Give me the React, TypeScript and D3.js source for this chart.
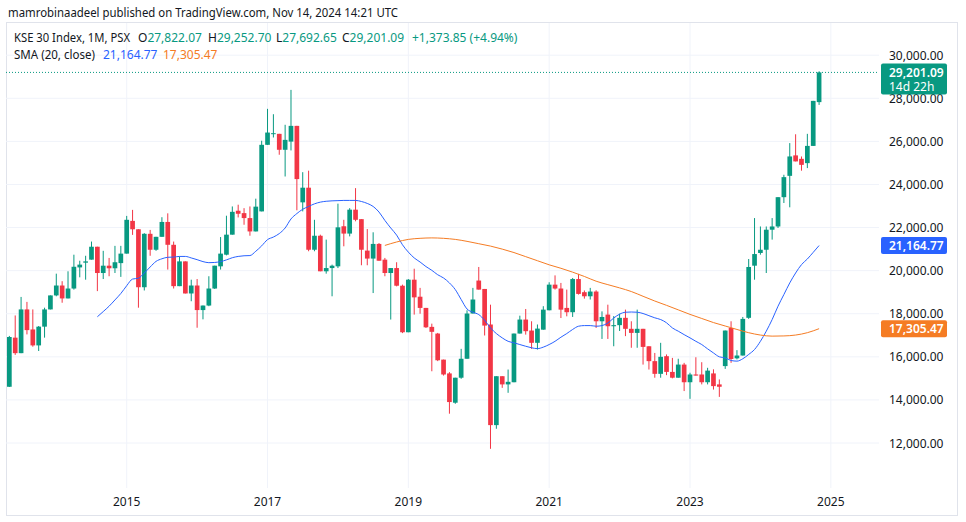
import React from 'react';
import * as d3 from 'd3';

// ---------- DATA (monthly KSE 30, first visible candle = 2013-05) ----------
const START_YEAR = 2013;
const START_MONTH = 5;

const opens = [
  14610, 16890, 16170, 18200, 17270, 16530, 17400, 18200, 18850, 19310, 18710, 19170, 20150, 20370, 20510, 21110, 19890, 20230, 20110, 20350,
  20790, 22310, 21920, 19230, 21710, 20970, 21570, 22260, 21200, 19280, 20430, 18940, 19310, 18170, 18380, 19170, 20200, 20740, 21670, 22780,
  22670, 22440, 21820, 22750, 25840, 26350, 26350, 25610, 25990, 26720, 23170, 23850, 20970, 21620, 19970, 20120, 20200, 22060, 21720, 22830,
  22390, 20930, 20560, 21240, 20510, 19890, 20120, 19300, 17140, 19580, 18790, 18270, 17390, 17080, 15870, 15230, 13870, 15030, 15910, 18010,
  19540, 19150, 17500, 12830, 15100, 14720, 14820, 17080, 17730, 17220, 16650, 17260, 18160, 19350, 19170, 18270, 18070, 19610, 19000, 18810,
  19030, 17650, 17960, 17420, 17470, 17810, 17300, 17110, 17300, 16490, 15800, 15210, 16030, 15300, 15030, 15640, 14820, 15180, 15180, 14820,
  15230, 14720, 15570, 17340, 15930, 16060, 17810, 20230, 20820, 20970, 21900, 22050, 23410, 24400, 25350, 25190, 24990, 25790, 27822.07,
];
const highs = [
  16970, 17920, 18780, 18550, 18200, 17430, 18280, 18850, 19860, 19510, 19970, 20740, 20460, 20690, 21350, 21110, 20920, 20590, 21150, 21150,
  22540, 22820, 21920, 21740, 21890, 21570, 22480, 22660, 21350, 20660, 20430, 19580, 19610, 18380, 19740, 20230, 21560, 22550, 22980, 23060,
  22900, 22980, 23340, 26030, 27510, 27260, 26350, 26770, 28390, 26720, 24570, 24640, 22360, 21670, 21440, 20280, 23110, 22360, 22900, 23830,
  22390, 21930, 21780, 21280, 20590, 20120, 20390, 19350, 19610, 20090, 19200, 18270, 17540, 17110, 15870, 15290, 15030, 16370, 18160, 19200,
  20170, 19150, 18420, 15100, 15100, 15410, 17080, 17910, 18220, 17650, 17500, 18350, 19460, 19780, 19430, 19120, 19660, 19850, 19080, 19200,
  19090, 18110, 18420, 17890, 18000, 18190, 17650, 18190, 17300, 16490, 16180, 16650, 16110, 15950, 15910, 15720, 15260, 15980, 15750, 15490,
  15420, 14950, 17220, 17650, 16310, 17850, 20540, 22440, 22050, 22050, 22440, 23410, 24450, 25920, 26330, 25300, 26350, 27880, 29252.70,
];
const lows = [
  14600, 16090, 16170, 17040, 16470, 16270, 16890, 18200, 18810, 18510, 18710, 19120, 19690, 19580, 20510, 19050, 19610, 19740, 19890, 19710,
  20790, 21660, 18280, 19080, 20690, 20920, 21570, 20050, 19170, 19280, 18940, 18580, 17350, 17740, 18350, 19150, 20050, 20710, 21670, 22470,
  22130, 21620, 21820, 22750, 25840, 26180, 25380, 24370, 25580, 22800, 22750, 20900, 20900, 19970, 19860, 18810, 20120, 21130, 21590, 22290,
  20250, 20250, 18960, 20460, 19740, 17730, 19270, 17100, 17140, 17960, 18000, 17340, 15330, 15800, 15130, 13360, 13820, 14980, 15910, 18010,
  19120, 16990, 11730, 12660, 14560, 14330, 14820, 17080, 17030, 16370, 16340, 17260, 18160, 19120, 17800, 17880, 17850, 18890, 18700, 18660,
  17340, 16830, 16830, 16490, 17200, 16960, 16420, 16420, 15640, 15410, 15030, 15030, 15150, 15000, 15030, 14410, 14050, 15130, 14720, 14720,
  14480, 14140, 15440, 15720, 15880, 16060, 17760, 19580, 20740, 19890, 21440, 21980, 23140, 22940, 25070, 24640, 24760, 25790, 27692.65,
];
const closes = [
  16920, 16170, 18200, 17240, 16530, 17400, 18200, 18850, 19310, 18710, 19170, 20180, 20280, 20430, 21110, 19890, 20230, 20110, 20390, 20790,
  22360, 21920, 19230, 21710, 20970, 21570, 22260, 21200, 19280, 20430, 18940, 19310, 18170, 18380, 19170, 20230, 20790, 21670, 22730, 22640,
  22440, 21820, 22970, 25840, 26410, 26380, 25610, 26070, 26720, 24250, 23850, 20970, 21620, 19970, 20120, 20230, 22010, 21720, 22830, 22360,
  20970, 20560, 21240, 20460, 19890, 20120, 19300, 17140, 19580, 18760, 18270, 17370, 17160, 15840, 15180, 13900, 15030, 15910, 18010, 18660,
  19120, 17450, 12830, 15100, 14720, 14840, 17080, 17730, 17190, 16650, 17310, 18190, 19350, 19170, 18190, 18070, 19610, 18920, 18810, 19030,
  17650, 17850, 17420, 17470, 17810, 17300, 17110, 17300, 16460, 15800, 15210, 16000, 15300, 15030, 15640, 14820, 15180, 15130, 14820, 15360,
  14640, 14610, 17220, 15900, 16060, 17760, 20170, 20770, 20970, 21900, 22050, 23410, 24340, 25300, 25070, 24910, 25790, 27880, 29201.09,
];

// SMA (20, close) line, monthly from 2014-08
const smaFastStart = '2014-08';
const smaFast = [
  17860, 18100, 18350, 18640, 18940,
  19300, 19610, 19650, 19890, 20170, 20430, 20550, 20620, 20630, 20660, 20660, 20590, 20510, 20420, 20370, 20380, 20420, 20500, 20600, 20660,
  20690, 20700, 20900, 21150, 21440, 21560, 21720, 21980, 22400, 22650, 22850, 22980, 23100, 23180, 23220, 23240, 23250, 23260, 23260, 23260,
  23210, 23120, 22980, 22720, 22330, 21980, 21650, 21200, 20860, 20590, 20400, 20190, 20015, 19810, 19660, 19430, 19120, 18660, 18220, 18070,
  17960, 17700, 17340, 17080, 16880, 16720, 16650, 16570, 16490, 16420, 16380, 16450, 16570, 16720, 16910, 17080, 17270, 17420, 17450, 17450,
  17420, 17450, 17570, 17800, 17980, 18070, 18080, 18070, 18010, 17910, 17810, 17730, 17580, 17340, 17190, 17030, 16880, 16720, 16570, 16370,
  16180, 16000, 15950, 15830, 15800, 15910, 16110, 16340, 16720, 17190, 17730, 18350, 18890, 19430, 19890, 20280, 20540, 20850, 21164.77,
];
// smoothing line (orange)
const smaSlowMonths = [
  '2018-09', '2018-11', '2019-01', '2019-03', '2019-05', '2019-07', '2019-09', '2019-11', '2020-01', '2020-03', '2020-05', '2020-07',
  '2020-09', '2020-11', '2021-01', '2021-03', '2021-05', '2021-07', '2021-09', '2021-11', '2022-01', '2022-03', '2022-05', '2022-07',
  '2022-09', '2022-11', '2023-01', '2023-03', '2023-05', '2023-07', '2023-09', '2023-11', '2024-01', '2024-03', '2024-05', '2024-07',
  '2024-09', '2024-11',
];
const smaSlow = [
  21170, 21330, 21450, 21500, 21520, 21500, 21450, 21360, 21250, 21140, 21000, 20840,
  20650, 20460, 20270, 20110, 19930, 19730, 19510, 19350, 19200, 19030, 18810, 18590,
  18390, 18180, 17970, 17780, 17590, 17430, 17270, 17120, 17010, 16960, 16970, 17010,
  17120, 17305.47,
];

const yearTicks = [2015, 2017, 2019, 2021, 2023, 2025];
const priceTicks = [12000, 14000, 16000, 18000, 20000, 22000, 24000, 26000, 28000, 30000];

const lastOHLC = { o: '27,822.07', h: '29,252.70', l: '27,692.65', c: '29,201.09', chg: '+1,373.85 (+4.94%)' };

// ---------- STYLE ----------
const W = 966;
const H = 522;
const UP = '#089981';
const DOWN = '#F23645';
const BLUE = '#2962FF';
const ORANGE = '#F57C24';
const TEXT = '#131722';
const GRID = '#F0F3FA';
const FONT = "'Noto Sans', Roboto, sans-serif";

const PLOT = { left: 6, right: 879, top: 23, bottom: 488 };

function monthIndex(label: string) {
  const [y, m] = label.split('-').map(Number);
  return (y - START_YEAR) * 12 + (m - START_MONTH);
}

const fmt = d3.format(',.2f');

export default function App() {
  const x = d3.scaleLinear()
    .domain([monthIndex('2015-01'), monthIndex('2023-01')])
    .range([126.7, 690]);
  const y = d3.scaleLinear().domain([12000, 30000]).range([443, 55.2]);

  const step = x(1) - x(0);
  const bodyW = step * 0.8;

  const candles = opens.map((o, i) => ({ i, o, h: highs[i], l: lows[i], c: closes[i] }));

  const fastStart = monthIndex(smaFastStart);
  const fastPts: [number, number][] = smaFast.map((v, k) => [x(fastStart + k), y(v)]);
  const slowPts: [number, number][] = smaSlow.map((v, k) => [x(monthIndex(smaSlowMonths[k])), y(v)]);
  const line = d3.line().curve(d3.curveMonotoneX);

  const lastClose = closes[closes.length - 1];
  const lastFast = smaFast[smaFast.length - 1];
  const lastSlow = smaSlow[smaSlow.length - 1];

  const tagX = 881;
  const tagW = 66;

  const ohlcItems = [
    { k: 'O', v: lastOHLC.o, x: 138 },
    { k: 'H', v: lastOHLC.h, x: 208 },
    { k: 'L', v: lastOHLC.l, x: 276 },
    { k: 'C', v: lastOHLC.c, x: 342 },
  ];

  return (
    <svg width={W} height={H} style={{ position: 'absolute', left: 0, top: 0, background: '#fff' }} fontFamily={FONT}>
      <defs>
        <clipPath id="plotClip">
          <rect x={PLOT.left} y={PLOT.top} width={PLOT.right - PLOT.left} height={PLOT.bottom - PLOT.top} />
        </clipPath>
      </defs>
      <rect x={0} y={0} width={W} height={H} fill="#fff" />

      {/* header */}
      <text x={8} y={16.5} fontSize={12.5} fill={TEXT} textLength={390} lengthAdjust="spacingAndGlyphs">mamrobinaadeel published on TradingView.com, Nov 14, 2024 14:21 UTC</text>

      {/* frame */}
      <rect x={6.5} y={22.5} width={951} height={493} fill="none" stroke="#E0E3EB" strokeWidth={1} />

      {/* grid */}
      <g>
        {priceTicks.map((p) => (
          <line key={p} x1={PLOT.left} x2={PLOT.right} y1={y(p)} y2={y(p)} stroke={GRID} strokeWidth={1} />
        ))}
        {yearTicks.map((yr) => (
          <line key={yr} x1={x(monthIndex(`${yr}-01`))} x2={x(monthIndex(`${yr}-01`))} y1={PLOT.top} y2={PLOT.bottom} stroke={GRID} strokeWidth={1} />
        ))}
      </g>

      <g clipPath="url(#plotClip)">
        {/* candles */}
        {candles.map((d) => {
          const cx = x(d.i);
          const up = d.c >= d.o;
          const col = up ? UP : DOWN;
          const top = y(Math.max(d.o, d.c));
          const bot = y(Math.min(d.o, d.c));
          return (
            <g key={d.i}>
              <line x1={cx} x2={cx} y1={y(d.h)} y2={y(d.l)} stroke={col} strokeWidth={1} />
              <rect x={cx - bodyW / 2} y={top} width={bodyW} height={Math.max(1, bot - top)} fill={col} />
            </g>
          );
        })}
        {/* SMA lines */}
        <path d={line(fastPts) || ''} fill="none" stroke={BLUE} strokeWidth={1} />
        <path d={line(slowPts) || ''} fill="none" stroke={ORANGE} strokeWidth={1} />
        {/* last price dotted line */}
        <line x1={PLOT.left} x2={tagX} y1={y(lastClose)} y2={y(lastClose)} stroke={UP} strokeWidth={1} strokeDasharray="1 2" />
      </g>

      {/* y axis labels */}
      <g fontSize={12} fill={TEXT}>
        {priceTicks.map((p) => (
          <text key={p} x={889} y={y(p)} dominantBaseline="central">{fmt(p)}</text>
        ))}
      </g>

      {/* x axis labels */}
      <g fontSize={12} fill={TEXT} textAnchor="middle">
        {yearTicks.map((yr) => (
          <text key={yr} x={x(monthIndex(`${yr}-01`))} y={501} dominantBaseline="central">{yr}</text>
        ))}
      </g>

      {/* price tags */}
      <g fontSize={12} fill="#fff">
        <rect x={tagX} y={y(lastClose) - 9} width={tagW} height={31} rx={2} fill={UP} />
        <text x={889} y={y(lastClose)} dominantBaseline="central" fontWeight={600}>{fmt(lastClose)}</text>
        <text x={889} y={y(lastClose) + 14} dominantBaseline="central">14d 22h</text>

        <rect x={tagX} y={y(lastFast) - 8.5} width={tagW} height={17} rx={2} fill={BLUE} />
        <text x={889} y={y(lastFast)} dominantBaseline="central" fontWeight={600}>{fmt(lastFast)}</text>

        <rect x={tagX} y={y(lastSlow) - 8.5} width={tagW} height={17} rx={2} fill={ORANGE} />
        <text x={889} y={y(lastSlow)} dominantBaseline="central" fontWeight={600}>{fmt(lastSlow)}</text>
      </g>

      {/* legend */}
      <g fontSize={12} fill={TEXT}>
        <text x={14} y={42} textLength={116} lengthAdjust="spacingAndGlyphs">KSE 30 Index, 1M, PSX</text>
        {ohlcItems.map((it) => (
          <text key={it.k} x={it.x} y={42}>
            <tspan>{it.k}</tspan><tspan fill={UP}>{it.v}</tspan>
          </text>
        ))}
        <text x={412} y={42} fill={UP}>{lastOHLC.chg}</text>
        <text x={14} y={59} textLength={81} lengthAdjust="spacingAndGlyphs">SMA (20, close)</text>
        <text x={103} y={59} fill={BLUE}>{fmt(lastFast)}</text>
        <text x={163} y={59} fill={ORANGE}>{fmt(lastSlow)}</text>
      </g>
    </svg>
  );
}
